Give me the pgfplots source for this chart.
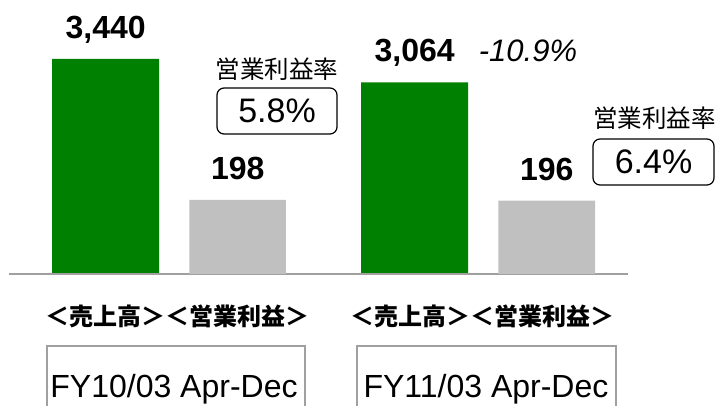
\documentclass[border=0pt]{standalone}
\usepackage{pgfplots}
\pgfplotsset{compat=1.18}
\usepackage{fontspec}
\setmainfont{Liberation Sans}
\newfontfamily\jp{Noto Sans CJK JP}
\definecolor{salesgreen}{RGB}{0,128,0}
\definecolor{profitgray}{RGB}{192,192,192}
\definecolor{linegray}{RGB}{160,160,160}
\begin{document}
\begin{tikzpicture}
\useasboundingbox (0,0) rectangle (717pt,406pt);
\pgfplotsset{base/.style={scale only axis, width=717pt, height=406pt,
  at={(0pt,0pt)}, anchor=south west, xmin=-0.5558, xmax=1.7646,
  hide axis, clip=false, ybar,
  /pgf/number format/assume math mode=true,
  /pgf/number format/1000 sep={,}}}
% Sales (green)
\begin{axis}[base, ymin=-2112, ymax=4384]
\addplot[fill=salesgreen, draw=none, bar width=107pt, bar shift=-66pt,
  nodes near coords,
  every node near coord/.append style={font=\fontsize{32}{32}\selectfont\bfseries,
    anchor=base, yshift=20.5pt, black}]
  coordinates {(0,3440) (1,3064)};
\draw[linegray, line width=1.6pt] (axis cs:-0.5267,0) -- (axis cs:1.4765,0);
\node[anchor=base, yshift=20.5pt, font=\fontsize{31}{31}\selectfont\itshape]
  at (axis cs:1.1529,3064) {-10.9\%};
\end{axis}
% Operating profit (gray)
\begin{axis}[base, ymin=-353.2, ymax=733.1]
\addplot[fill=profitgray, draw=none, bar width=96.5pt, bar shift=66pt,
  nodes near coords,
  every node near coord/.append style={font=\fontsize{32}{32}\selectfont\bfseries,
    anchor=base, yshift=20.5pt, black}]
  coordinates {(0,198) (1,196)};
\end{axis}
% operating margin annotations
\node[font=\jp\fontsize{24.5}{24.5}\selectfont] at (277pt,337pt) {営業利益率};
\node[draw=black, line width=1.2pt, rounded corners=7pt, minimum width=120pt,
  minimum height=46pt, inner sep=0pt, font=\fontsize{34}{34}\selectfont]
  at (277pt,295pt) {5.8\%};
\node[font=\jp\fontsize{24.5}{24.5}\selectfont] at (654.5pt,288pt) {営業利益率};
\node[draw=black, line width=1.2pt, rounded corners=7pt, minimum width=121pt,
  minimum height=46pt, inner sep=0pt, font=\fontsize{34}{34}\selectfont]
  at (653.5pt,244pt) {6.4\%};
% category labels
\node[font=\jp\bfseries\fontsize{24}{24}\selectfont, inner sep=0pt] at (177pt,90pt) {＜売上高＞＜営業利益＞};
\node[font=\jp\bfseries\fontsize{24}{24}\selectfont, inner sep=0pt] at (482pt,90pt) {＜売上高＞＜営業利益＞};
% period boxes
\draw[linegray, line width=1.6pt] (47pt,-10pt) rectangle (305pt,60pt);
\draw[linegray, line width=1.6pt] (357pt,-10pt) rectangle (616pt,60pt);
\node[anchor=base, font=\fontsize{32}{32}\selectfont, inner sep=0pt] at (174pt,8pt) {FY10/03 Apr-Dec};
\node[anchor=base, font=\fontsize{32}{32}\selectfont, inner sep=0pt] at (486pt,8pt) {FY11/03 Apr-Dec};
\end{tikzpicture}
\end{document}
